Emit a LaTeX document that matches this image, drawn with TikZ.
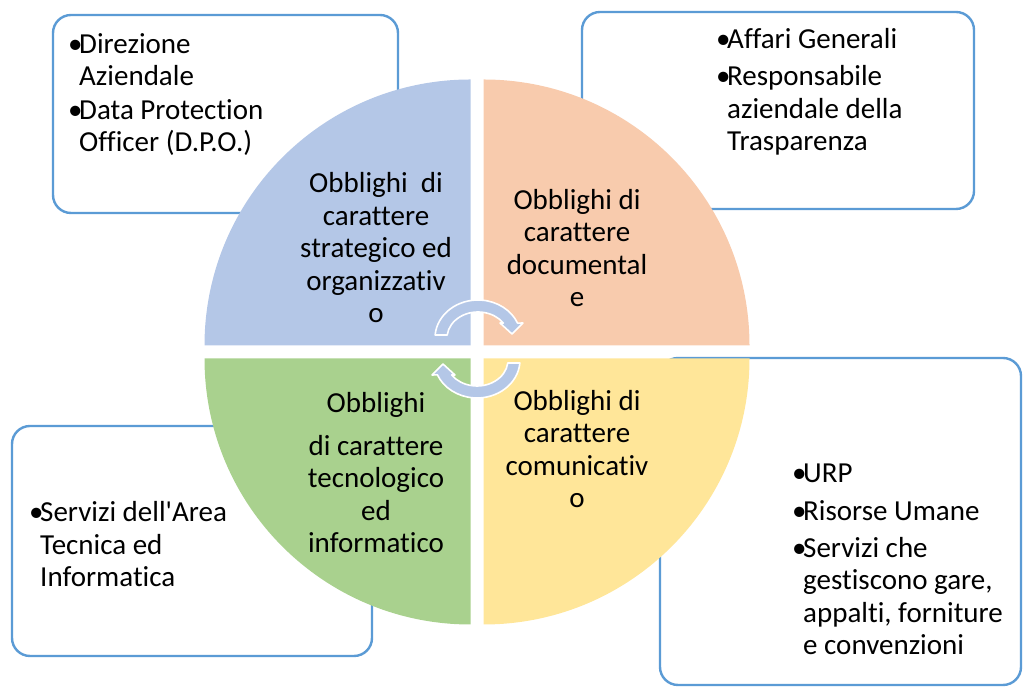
\documentclass[tikz,border=0pt]{standalone}
\usepackage{fontspec}
\setmainfont{Carlito}[Ligatures=NoCommon]
\definecolor{boxblue}{HTML}{5B9BD5}
\definecolor{qblue}{HTML}{B4C7E7}
\definecolor{qorange}{HTML}{F8CBAD}
\definecolor{qgreen}{HTML}{A9D18E}
\definecolor{qyellow}{HTML}{FFE699}
\newcommand{\bl}{\makebox[11pt][l]{•}}
\newcommand{\ind}{\hspace*{11pt}}
\begin{document}
\begin{tikzpicture}[x=1pt,y=1pt]
\tikzstyle{box}=[draw=boxblue,line width=2.4pt,rounded corners=18pt,fill=white]
\tikzstyle{lst}=[anchor=base west,align=left,inner sep=0pt,font=\fontsize{29}{32.5}\selectfont]
\tikzstyle{qtxt}=[anchor=base,align=center,inner sep=0pt,font=\fontsize{29}{32.5}\selectfont]
\tikzstyle{cyc}=[fill=qblue,draw=white,line width=1.6pt,line join=round]
\useasboundingbox (0,0) rectangle (1023,687);

% frames behind the circle
\draw[box] (53,474) rectangle (398,672);
\draw[box] (582,478) rectangle (974,675);
\draw[box] (12,31) rectangle (372,261);
\draw[box] (660,2) rectangle (1021,329);

% four quarters
\fill[qblue] (470.5,341.5) -- ++(-266,0) arc[start angle=180,end angle=90,radius=266] -- cycle;
\fill[qorange] (483.5,341.5) -- ++(266,0) arc[start angle=0,end angle=90,radius=266] -- cycle;
\fill[qgreen] (470.5,328.5) -- ++(-266,0) arc[start angle=180,end angle=270,radius=266] -- cycle;
\fill[qyellow] (483.5,328.5) -- ++(266,0) arc[start angle=0,end angle=-90,radius=266] -- cycle;

% cycle arrows
\foreach \cx/\cy/\r in {478/349/0,477/327/180}
  \filldraw[cyc,shift={(\cx,\cy)},rotate=\r] (175.5:43pt and 38pt)
    arc[start angle=175.5,end angle=23,x radius=43,y radius=38] -- (45,15) -- (34,4) -- (22,15)
    -- (35:31pt and 26pt) arc[start angle=35,end angle=173.4,x radius=31,y radius=26] -- cycle;

% base = last line
\node[qtxt] (strat) at (376,364) {Obblighi\ \ di\\carattere\\strategico ed\\organizzativ\\o};
\node[qtxt] (docu) at (577,380) {Obblighi di\\carattere\\documental\\e};
\node[qtxt] (tecno) at (376,134) {Obblighi\\[10pt]di carattere\\tecnologico\\ed\\informatico};
\node[qtxt] (comu) at (577,179) {Obblighi di\\carattere\\comunicativ\\o};

\node[lst] (dir) at (68,535) {\bl Direzione\\\ind Aziendale\\[1pt]\bl Data Protection\\\ind Officer (D.P.O.)};
\node[lst] (aff) at (716,536) {\bl Affari Generali\\[5pt]\bl Responsabile\\\ind aziendale della\\\ind Trasparenza};
\node[lst] (area) at (29,100) {\bl Servizi dell\textquotesingle Area\\\ind Tecnica ed\\\ind Informatica};
\node[lst] (urp) at (792,32) {\bl URP\\[6pt]\bl Risorse Umane\\[4pt]\bl Servizi che\\\ind gestiscono gare,\\\ind appalti, forniture\\\ind e convenzioni};
\end{tikzpicture}
\end{document}
